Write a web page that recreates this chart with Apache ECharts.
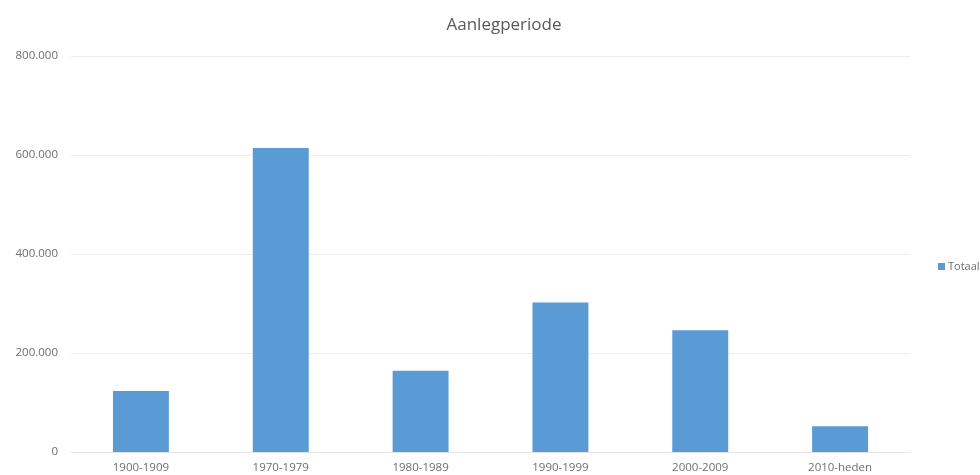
<!DOCTYPE html>
<html>
<head>
<meta charset="utf-8">
<script src="https://cdn.jsdelivr.net/npm/echarts@6/dist/echarts.min.js"></script>
<style>
html,body{margin:0;padding:0;background:#fff;}
#c{width:980px;height:475px;}
</style>
</head>
<body>
<div id="c"></div>
<script>
const categories = ['1900-1909', '1970-1979', '1980-1989', '1990-1999', '2000-2009', '2010-heden'];
const totaal = [123000, 614000, 164000, 302000, 246000, 52000];
const seriesName = 'Totaal';
const titleText = 'Aanlegperiode';

const chart = echarts.init(document.getElementById('c'));
const fmt = v => v === 0 ? '0' : String(v).replace(/\B(?=(\d{3})+(?!\d))/g, '.');
chart.setOption({
  animation: false,
  backgroundColor: '#fff',
  textStyle: { fontFamily: 'Open Sans' },
  title: {
    text: titleText,
    left: 499, top: 12, textAlign: 'center',
    textStyle: { fontSize: 17, fontWeight: 'normal', color: '#595959', fontFamily: 'Open Sans' }
  },
  legend: {
    data: [seriesName],
    left: 933, top: 256,
    icon: 'rect', itemWidth: 7, itemHeight: 7, itemGap: 4,
    textStyle: { fontSize: 11, color: '#6e6e6e', padding: [0, 0, 0, -2] }
  },
  grid: { left: 71, right: 70, top: 56, bottom: 23, containLabel: false },
  xAxis: {
    type: 'category',
    data: categories,
    axisLine: { show: true, lineStyle: { color: '#e6e6e6', width: 1 } },
    axisTick: { show: false },
    axisLabel: { color: '#6e6e6e', fontSize: 11.5, margin: 10 }
  },
  yAxis: {
    type: 'value',
    min: 0, max: 800000, interval: 200000,
    axisLine: { show: false },
    axisTick: { show: false },
    splitLine: { lineStyle: { color: '#ececec', width: 1 } },
    axisLabel: { color: '#6e6e6e', fontSize: 11.5, margin: 13, formatter: fmt }
  },
  series: [{
    name: seriesName,
    type: 'bar',
    data: totaal,
    barWidth: '40%',
    itemStyle: { color: '#5b9bd5' }
  }]
});
</script>
</body>
</html>
